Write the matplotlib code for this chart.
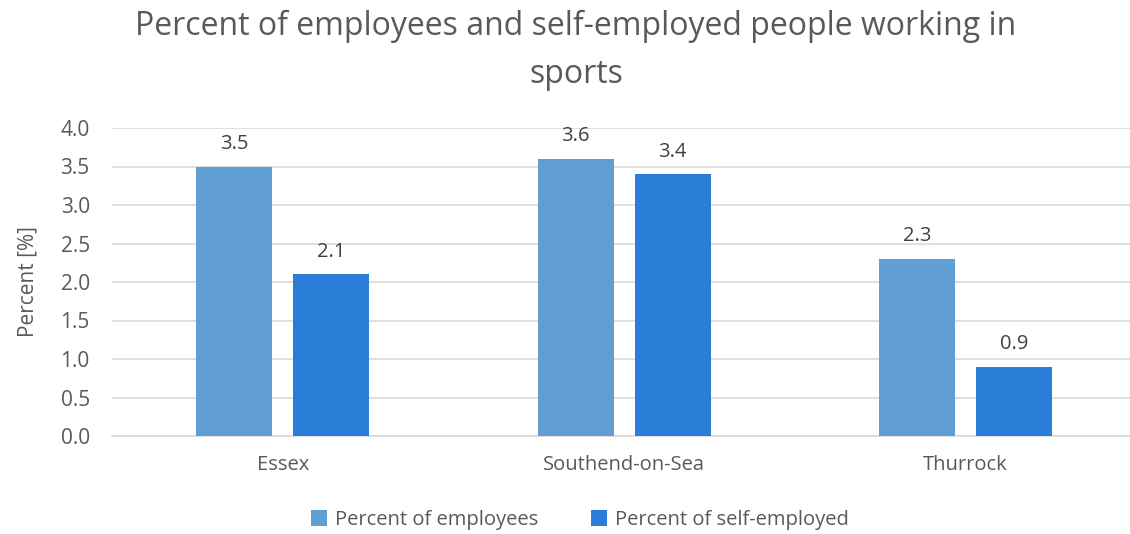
import matplotlib
matplotlib.use("Agg")
from matplotlib import pyplot as plt
import numpy as np

# Chart data
areas = ["Essex", "Southend-on-Sea", "Thurrock"]
employees = [3.5, 3.6, 2.3]
self_employed = [2.1, 3.4, 0.9]
series_names = ["Percent of employees", "Percent of self-employed"]

plt.rcParams["font.family"] = ["Open Sans", "DejaVu Sans"]
text_col = "#595959"

fig = plt.figure(figsize=(11.3, 5.34), dpi=100)
ax = fig.add_axes([112 / 1130, 1 - 436 / 534, 1 - 112 / 1130, (436 - 128) / 534])

x = np.arange(len(areas))
width = 0.2225
offset = 0.142
b1 = ax.bar(x - offset, employees, width, color="#619ED4", label=series_names[0], zorder=3)
b2 = ax.bar(x + offset, self_employed, width, color="#2B7ED8", label=series_names[1], zorder=3)

for bars in (b1, b2):
    for rect in bars:
        h = rect.get_height()
        ax.annotate(f"{h:.1f}", (rect.get_x() + rect.get_width() / 2, h),
                    xytext=(0, 9), textcoords="offset points",
                    ha="center", va="bottom", fontsize=14.5, color="#404040")

ax.set_xlim(-0.5, -0.5 + (1130 - 112) / 341.5)
ax.set_ylim(0, 4.0)
ax.set_yticks(np.arange(0, 4.01, 0.5))
ax.yaxis.set_major_formatter(matplotlib.ticker.FormatStrFormatter("%.1f"))
ax.set_xticks(x)
ax.set_xticklabels(areas)
ax.tick_params(axis="both", length=0, labelsize=14.5, colors=text_col)
ax.tick_params(axis="x", pad=14)
ax.tick_params(axis="y", pad=16, labelsize=15)
ax.grid(axis="y", color="#D9D9D9", linewidth=1.2, zorder=0)
for side in ["top", "right", "left"]:
    ax.spines[side].set_visible(False)
ax.spines["bottom"].set_color("#D9D9D9")
ax.spines["bottom"].set_linewidth(1.2)

ax.set_ylabel("Percent [%]", fontsize=15, color=text_col, labelpad=16)

fig.text(576 / 1130, 1 - 10 / 534,
         "Percent of employees and self-employed people working in\nsports",
         ha="center", va="top", fontsize=23, color=text_col, linespacing=1.6)

ax.legend(loc="center", bbox_to_anchor=(580 / 1130, 1 - 520 / 534),
          bbox_transform=fig.transFigure, ncol=2, frameon=False,
          fontsize=14.5, handlelength=0.8, handleheight=0.8, columnspacing=2.6,
          handletextpad=0.4, labelcolor=text_col)

fig.savefig("out.png", dpi=100)
